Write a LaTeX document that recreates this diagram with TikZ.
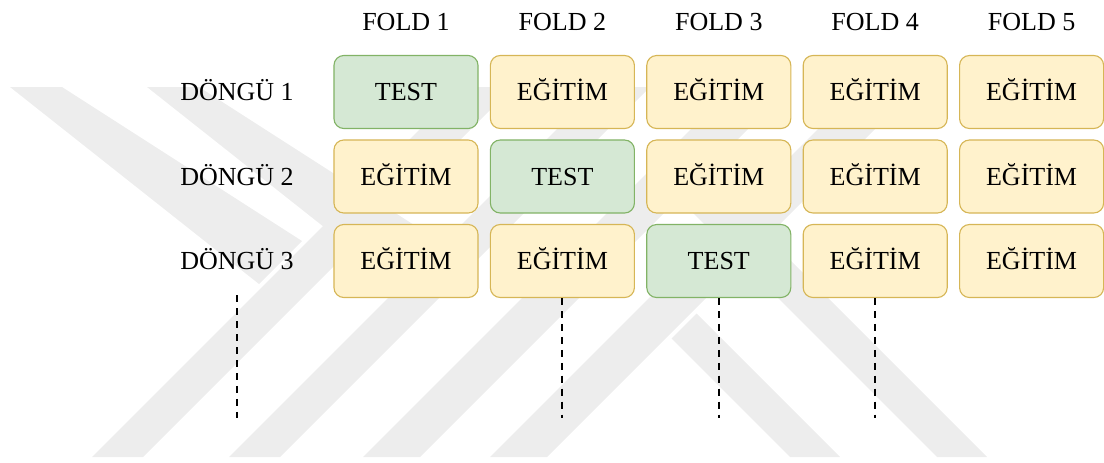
\documentclass[tikz,border=0pt]{standalone}
\usepackage{fontspec}
\setmainfont{Liberation Serif}

\definecolor{testfill}{HTML}{D5E8D4}
\definecolor{testline}{HTML}{82B366}
\definecolor{trainfill}{HTML}{FFF2CC}
\definecolor{trainline}{HTML}{D6B656}
\definecolor{wmgray}{HTML}{EDEDED}

\tikzset{
    lbl/.style={inner sep=0pt, text height=12.25pt, text depth=0pt},
    cell/.style={lbl, rounded corners=7pt, minimum width=3.6cm, minimum height=1.825cm, line width=0.8pt},
    test/.style={cell, fill=testfill, draw=testline},
    train/.style={cell, fill=trainfill, draw=trainline},
    dots/.style={line width=1.4pt, dash pattern=on 5pt off 4.2pt},
}

\begin{document}
\begin{tikzpicture}[x=0.025cm, y=-0.025cm, every node/.style={font=\fontsize{18.5pt}{22pt}\selectfont}]
        \useasboundingbox (0,0) rectangle (1104,462);

        \fill[wmgray] (10,87) -- (62,87) -- (302,241) -- (259,284) -- cycle;
        \fill[wmgray] (92,457) -- (143,457) -- (513,87) -- (462,87) -- cycle;
        \fill[wmgray] (147,87) -- (199,87) -- (439,241) -- (396,284) -- cycle;
        \fill[wmgray] (229,457) -- (280,457) -- (650,87) -- (599,87) -- cycle;
        \fill[wmgray] (363,457) -- (420,457) -- (790,87) -- (733,87) -- cycle;
        \fill[wmgray] (490,457) -- (547,457) -- (917,87) -- (860,87) -- cycle;
        \fill[wmgray] (937,457) -- (987,457) -- (706.5,176.5) -- (681.5,201.5) -- cycle;
        \fill[wmgray] (790,457) -- (840,457) -- (696.5,313.5) -- (671.5,338.5) -- cycle;

        \node[lbl] (f1) at (406,22) {FOLD 1};
        \node[lbl] (f2) at (562.4,22) {FOLD 2};
        \node[lbl] (f3) at (718.8,22) {FOLD 3};
        \node[lbl] (f4) at (875.2,22) {FOLD 4};
        \node[lbl] (f5) at (1031.6,22) {FOLD 5};

        \node[lbl] (d1) at (237,92) {DÖNGÜ 1};
        \node[lbl] (d2) at (237,176.5) {DÖNGÜ 2};
        \node[lbl] (d3) at (237,261) {DÖNGÜ 3};

        \node[test]  (b11) at (406,92) {TEST};
        \node[train] (b12) at (562.4,92) {EĞİTİM};
        \node[train] (b13) at (718.8,92) {EĞİTİM};
        \node[train] (b14) at (875.2,92) {EĞİTİM};
        \node[train] (b15) at (1031.6,92) {EĞİTİM};

        \node[train] (b21) at (406,176.5) {EĞİTİM};
        \node[test]  (b22) at (562.4,176.5) {TEST};
        \node[train] (b23) at (718.8,176.5) {EĞİTİM};
        \node[train] (b24) at (875.2,176.5) {EĞİTİM};
        \node[train] (b25) at (1031.6,176.5) {EĞİTİM};

        \node[train] (b31) at (406,261) {EĞİTİM};
        \node[train] (b32) at (562.4,261) {EĞİTİM};
        \node[test]  (b33) at (718.8,261) {TEST};
        \node[train] (b34) at (875.2,261) {EĞİTİM};
        \node[train] (b35) at (1031.6,261) {EĞİTİM};

        \coordinate (e1) at (237,418);
        \coordinate (e2) at (562.4,418);
        \coordinate (e3) at (718.8,418);
        \coordinate (e4) at (875.2,418);

        \draw[dots] (d3.south) ++(0,25.5) -- (e1);
        \draw[dots] (b32.south) -- (e2);
        \draw[dots] (b33.south) -- (e3);
        \draw[dots] (b34.south) -- (e4);
    \end{tikzpicture}
\end{document}
